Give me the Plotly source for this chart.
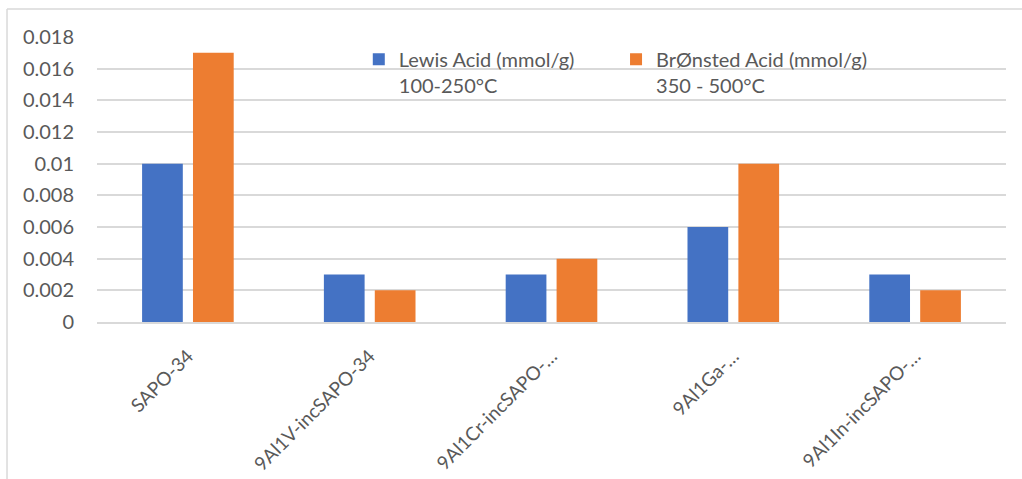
import plotly.graph_objects as go

categories = ["SAPO-34", "9Al1V-incSAPO-34", "9Al1Cr-incSAPO-…", "9Al1Ga-…", "9Al1In-incSAPO-…"]
lewis = [0.010, 0.003, 0.003, 0.006, 0.003]
bronsted = [0.017, 0.002, 0.004, 0.010, 0.002]
series_names = ["Lewis Acid (mmol/g)<br>100-250°C", "BrØnsted Acid (mmol/g)<br>350 - 500°C"]
y_ticks = [0, 0.002, 0.004, 0.006, 0.008, 0.01, 0.012, 0.014, 0.016, 0.018]
y_tick_text = ["0", "0.002", "0.004", "0.006", "0.008", "0.01", "0.012", "0.014", "0.016", "0.018"]

FONT = "Lato"
TXT = "#595959"
GRID = "#D9D9D9"
FS = 20

fig = go.Figure()
fig.add_trace(go.Bar(x=categories, y=lewis, name=series_names[0], legend="legend",
                     marker=dict(color="#4472C4", line=dict(width=0))))
fig.add_trace(go.Bar(x=categories, y=bronsted, name=series_names[1], legend="legend2",
                     marker=dict(color="#ED7D31", line=dict(width=0))))

leg_common = dict(orientation="h", yanchor="top", xanchor="left", y=0.99,
                  bgcolor="rgba(0,0,0,0)", valign="top",
                  font=dict(family=FONT, size=FS, color=TXT))

fig.update_layout(
    width=1022, height=479,
    margin=dict(l=97, r=16, t=37, b=157, pad=0, autoexpand=False),
    paper_bgcolor="white", plot_bgcolor="white",
    font=dict(family=FONT, size=FS, color=TXT),
    barmode="group", bargap=0.44, bargroupgap=0.2,
    showlegend=True,
    legend=dict(x=0.288, **leg_common),
    legend2=dict(x=0.571, **leg_common),
    xaxis=dict(showgrid=False, showline=True, linecolor=GRID, linewidth=1.5,
               tickangle=-45, ticks="", ticklabelstandoff=14, automargin=False,
               tickfont=dict(family=FONT, size=19, color=TXT), fixedrange=True),
    yaxis=dict(range=[0, 0.018], tickvals=y_ticks, ticktext=y_tick_text,
               showgrid=True, gridcolor=GRID, gridwidth=1.5, zeroline=False,
               showline=False, ticks="", ticklabelstandoff=22, automargin=False,
               tickfont=dict(family=FONT, size=FS, color=TXT), fixedrange=True),
    shapes=[
        dict(type="line", xref="paper", yref="paper", x0=-0.099, x1=1.2, y0=1.098, y1=1.098,
             line=dict(color=GRID, width=1.5)),
        dict(type="line", xref="paper", yref="paper", x0=-0.099, x1=-0.099, y0=1.098, y1=-1.0,
             line=dict(color=GRID, width=1.5)),
    ],
)

fig.write_html("out.html")
